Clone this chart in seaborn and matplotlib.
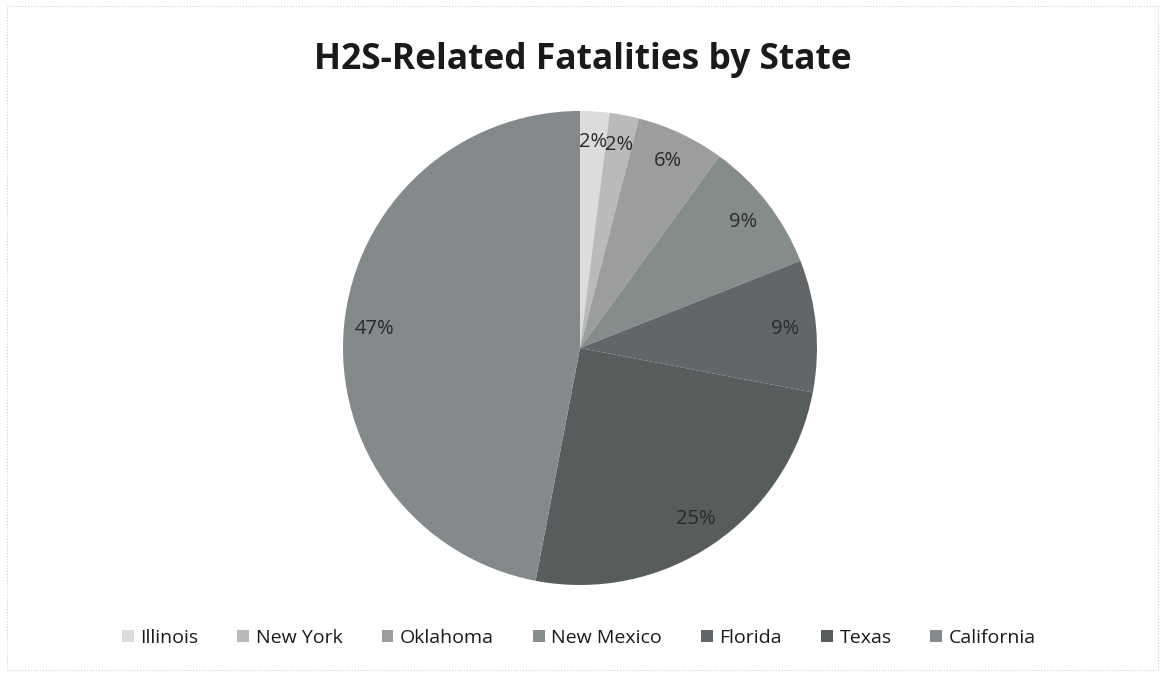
import matplotlib
matplotlib.use("Agg")
import matplotlib.pyplot as plt
import seaborn as sns
from matplotlib.patches import Rectangle

states = ["Illinois", "New York", "Oklahoma", "New Mexico", "Florida", "Texas", "California"]
shares = [2, 2, 6, 9, 9, 25, 47]
colors = ["#dcdcdc", "#bababa", "#9c9e9e", "#858c8c", "#636668", "#575d5d", "#848a8b"]

sns.set_theme(style="white")
plt.rcParams["font.family"] = ["Open Sans", "DejaVu Sans"]

W, H = 1165, 676
fig = plt.figure(figsize=(W / 100, H / 100), dpi=100)
fig.patch.set_facecolor("white")

cx, cy, r = 580, 348, 237
ax = fig.add_axes([(cx - r) / W, (H - cy - r) / H, 2 * r / W, 2 * r / H])
wedges, texts, autotexts = ax.pie(
    shares, colors=colors, startangle=90, counterclock=False,
    autopct="%.0f%%", pctdistance=0.87, radius=1,
    wedgeprops=dict(edgecolor="none", linewidth=0),
    textprops=dict(fontsize=14.5, color="#2a2a2a"),
)
ax.set_xlim(-1, 1)
ax.set_ylim(-1, 1)
ax.set_aspect("equal")
ax.axis("off")

fig.text(0.5, 1 - 60 / H, "H2S-Related Fatalities by State", ha="center", va="center",
         fontsize=25.5, fontweight="bold", color="#1a1a1a")

leg = fig.legend(wedges, states, loc="center", bbox_to_anchor=(0.497, 1 - 638 / H), ncol=7,
                 frameon=False, fontsize=14, handlelength=0.6, handleheight=0.6,
                 handletextpad=0.35, columnspacing=2.0)
for t in leg.get_texts():
    t.set_color("#1a1a1a")

fig.patches.append(Rectangle((7 / W, 6 / H), (1158 - 7) / W, (670 - 6) / H,
                             transform=fig.transFigure, fill=False,
                             edgecolor="#cccccc", linewidth=0.8, linestyle=":"))

fig.savefig("out.png", dpi=100)
